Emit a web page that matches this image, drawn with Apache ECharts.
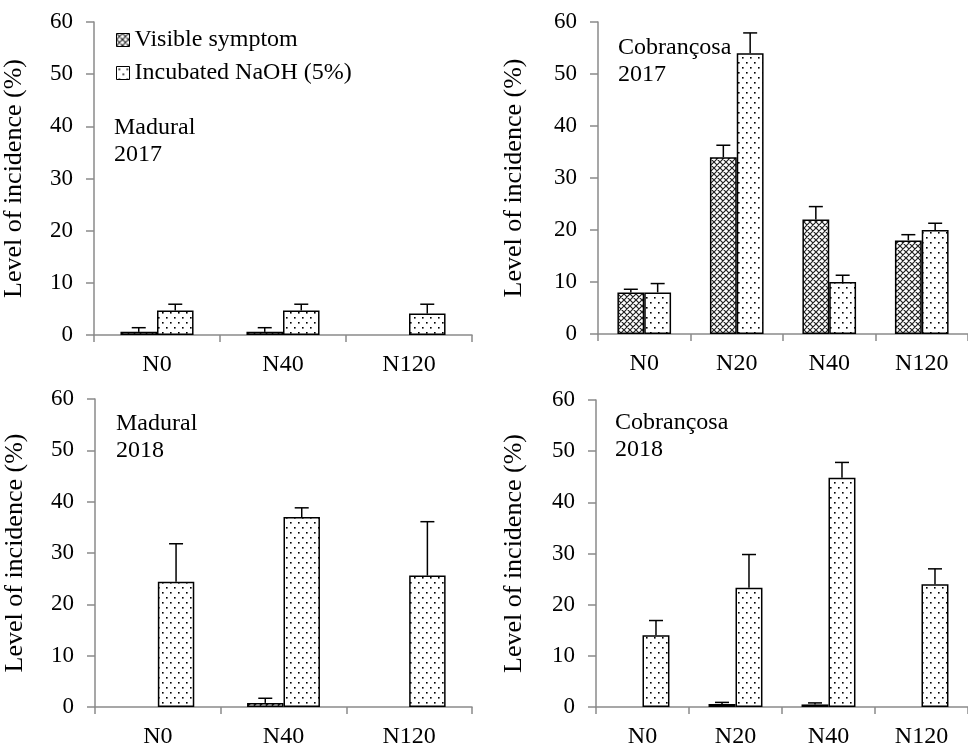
<!DOCTYPE html>
<html>
<head>
<meta charset="utf-8">
<script src="https://cdn.jsdelivr.net/npm/echarts@6/dist/echarts.min.js"></script>
<style>
html,body{margin:0;padding:0;background:#fff;}
#chart{width:968px;height:749px;}
</style>
</head>
<body>
<div id="chart"></div>
<script>
// ---- data ----
const cats3 = ['N0', 'N40', 'N120'];
const cats4 = ['N0', 'N20', 'N40', 'N120'];
const yTicks = [0, 10, 20, 30, 40, 50, 60];
const seriesNames = ['Visible symptom', 'Incubated NaOH (5%)'];

const mad17Vis = [0.6, 0.6, 0];
const mad17VisErr = [0.8, 0.8, 0];
const mad17Naoh = [4.7, 4.7, 4.1];
const mad17NaohErr = [1.2, 1.2, 1.8];

const cob17Vis = [8, 34, 22, 18];
const cob17VisErr = [0.6, 2.3, 2.5, 1.1];
const cob17Naoh = [8, 54, 10, 20];
const cob17NaohErr = [1.7, 3.9, 1.3, 1.3];

const mad18Vis = [0, 0.8, 0];
const mad18VisErr = [0, 0.9, 0];
const mad18Naoh = [24.4, 37, 25.6];
const mad18NaohErr = [7.4, 1.8, 10.5];

const cob18Vis = [0, 0.6, 0.5, 0];
const cob18VisErr = [0, 0.3, 0.3, 0];
const cob18Naoh = [14, 23.3, 44.8, 24];
const cob18NaohErr = [2.9, 6.5, 3.0, 3.0];

const panelLabels = ['Madural\n2017', 'Cobrançosa\n2017', 'Madural\n2018', 'Cobrançosa\n2018'];

// ---- patterns ----
function makeCross() {
  const c = document.createElement('canvas');
  c.width = 6; c.height = 6;
  const g = c.getContext('2d');
  g.fillStyle = '#fff'; g.fillRect(0, 0, 6, 6);
  g.strokeStyle = '#222'; g.lineWidth = 1.2;
  g.beginPath();
  g.moveTo(-1, -1); g.lineTo(7, 7);
  g.moveTo(7, -1); g.lineTo(-1, 7);
  g.moveTo(-1, 5); g.lineTo(1, 7);
  g.moveTo(5, -1); g.lineTo(7, 1);
  g.moveTo(-1, 1); g.lineTo(1, -1);
  g.moveTo(5, 7); g.lineTo(7, 5);
  g.stroke();
  return c;
}
function makeDots() {
  const c = document.createElement('canvas');
  c.width = 8; c.height = 10;
  const g = c.getContext('2d');
  g.fillStyle = '#fff'; g.fillRect(0, 0, 8, 10);
  g.fillStyle = '#000';
  g.fillRect(2, 2, 1.6, 1.6);
  g.fillRect(6, 7, 1.6, 1.6);
  return c;
}
const crossFill = { image: makeCross(), repeat: 'repeat' };
const dotFill = { image: makeDots(), repeat: 'repeat' };

const FONT = 'Liberation Serif';
const GAP = 0.42;

const grids = [
  { left: 90, top: 22, width: 382, height: 313 },
  { left: 598, top: 22, width: 375, height: 312 },
  { left: 95, top: 399, width: 377, height: 313 },
  { left: 596, top: 400, width: 376, height: 312 }
];
const nameGaps = [67, 71, 67, 69];
const panelCats = [cats3, cats4, cats3, cats4];
const panelData = [
  [mad17Vis, mad17VisErr, mad17Naoh, mad17NaohErr],
  [cob17Vis, cob17VisErr, cob17Naoh, cob17NaohErr],
  [mad18Vis, mad18VisErr, mad18Naoh, mad18NaohErr],
  [cob18Vis, cob18VisErr, cob18Naoh, cob18NaohErr]
];
const labelPos = [
  { left: 114, top: 114 },
  { left: 618, top: 34 },
  { left: 116, top: 410 },
  { left: 615, top: 409 }
];

const axisGray = '#8a8a8a';
const xAxes = [], yAxes = [], series = [];
grids.forEach((g, i) => {
  xAxes.push({
    type: 'category', gridIndex: i, data: panelCats[i],
    axisLine: { lineStyle: { color: axisGray, width: 1.5 } },
    axisTick: { show: true, length: 7, lineStyle: { color: axisGray, width: 1.5 } },
    axisLabel: { color: '#000', fontFamily: FONT, fontSize: 24, margin: 18, interval: 0 }
  });
  yAxes.push({
    type: 'value', gridIndex: i, min: yTicks[0], max: yTicks[yTicks.length - 1], interval: 10,
    splitLine: { show: false },
    axisLine: { show: true, lineStyle: { color: axisGray, width: 1.5 } },
    axisTick: { show: true, length: 8, lineStyle: { color: axisGray, width: 1.5 } },
    axisLabel: { color: '#000', fontFamily: FONT, fontSize: 23, margin: 21 },
    name: 'Level of incidence (%)', nameLocation: 'middle', nameGap: nameGaps[i], nameRotate: 90,
    nameTextStyle: { color: '#000', fontFamily: FONT, fontSize: 26 }
  });
  const [vis, visErr, naoh, naohErr] = panelData[i];
  const toBar = arr => arr.map(v => v === 0 ? { value: 0, itemStyle: { borderWidth: 0 } } : v);
  series.push({
    name: seriesNames[0], type: 'bar', xAxisIndex: i, yAxisIndex: i,
    data: toBar(vis), barGap: '0%', barCategoryGap: (GAP * 100) + '%',
    itemStyle: { color: crossFill, borderColor: '#000', borderWidth: 1.5 },
    emphasis: { disabled: true }, animation: false
  });
  series.push({
    name: seriesNames[1], type: 'bar', xAxisIndex: i, yAxisIndex: i,
    data: toBar(naoh), barGap: '0%', barCategoryGap: (GAP * 100) + '%',
    itemStyle: { color: dotFill, borderColor: '#000', borderWidth: 1.5 },
    emphasis: { disabled: true }, animation: false
  });
  const errData = [];
  vis.forEach((v, k) => errData.push([k, v, visErr[k], 0]));
  naoh.forEach((v, k) => errData.push([k, v, naohErr[k], 1]));
  series.push({
    type: 'custom', xAxisIndex: i, yAxisIndex: i, data: errData, z: 5,
    encode: { x: 0, y: 1 }, animation: false, silent: true,
    renderItem: function (params, api) {
      const cat = api.value(0), v = api.value(1), e = api.value(2), s = api.value(3);
      if (!e) return null;
      const band = api.size([1, 0])[0];
      const bw = band * (1 - GAP) / 2;
      const base = api.coord([cat, v]);
      const top = api.coord([cat, v + e]);
      const x = base[0] + (s === 0 ? -bw / 2 : bw / 2);
      return {
        type: 'group', children: [
          { type: 'line', shape: { x1: x, y1: base[1], x2: x, y2: top[1] }, style: { stroke: '#000', lineWidth: 1.5 } },
          { type: 'line', shape: { x1: x - 7, y1: top[1], x2: x + 7, y2: top[1] }, style: { stroke: '#000', lineWidth: 1.5 } }
        ]
      };
    }
  });
});

const titles = panelLabels.map((t, i) => ({
  text: t, left: labelPos[i].left, top: labelPos[i].top, padding: 0,
  textStyle: { color: '#000', fontFamily: FONT, fontSize: 24, fontWeight: 'normal', lineHeight: 27 }
}));

const chart = echarts.init(document.getElementById('chart'), null, { renderer: 'canvas' });
chart.setOption({
  animation: false,
  backgroundColor: '#fff',
  title: titles,
  legend: {
    data: seriesNames, orient: 'vertical', left: 116, top: 28, padding: 0,
    itemWidth: 13, itemHeight: 13, itemGap: 9, icon: 'rect', selectedMode: false,
    textStyle: { color: '#000', fontFamily: FONT, fontSize: 24, lineHeight: 24 },
    itemStyle: { borderColor: '#000', borderWidth: 1 }
  },
  grid: grids,
  xAxis: xAxes,
  yAxis: yAxes,
  series: series
});
</script>
</body>
</html>
